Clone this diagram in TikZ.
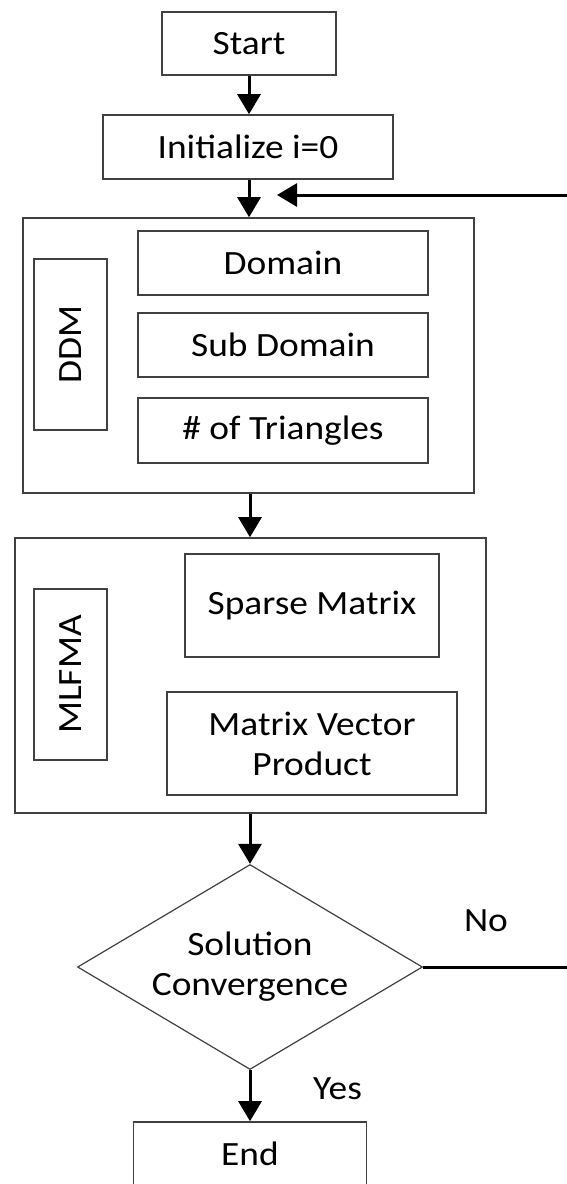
\documentclass[tikz,border=0pt]{standalone}
\usepackage{fontspec}
\setmainfont{Carlito}[FakeStretch=1.1]
\usetikzlibrary{arrows.meta, shapes.geometric}
\definecolor{boxgray}{HTML}{404040}

\begin{document}
\begin{tikzpicture}[
  x=0.5pt, y=-0.5pt,
  font=\fontsize{17}{20}\selectfont,
  every node/.style={align=center},
  flow/.style={-{Triangle[length=10pt,width=11.5pt]}, draw=black, line width=1.5pt},
  stepbox/.style={draw=boxgray, line width=0.8pt, inner sep=0pt},
  group/.style={draw=boxgray, line width=0.8pt, inner sep=0pt},
  tag/.style={draw=boxgray, line width=0.8pt, inner sep=0pt, rotate=90,
              minimum width=85.5pt, minimum height=36.5pt},
  decide/.style={diamond, aspect=1.68, draw=boxgray, line width=0.6pt, inner sep=0pt,
                 minimum width=172.5pt, minimum height=102.5pt},
]
\useasboundingbox (0,0) rectangle (567,1184);

% ---------- start ----------
\node[stepbox, minimum width=87pt, minimum height=31.5pt] (start) at (249,43.5) {Start};
\node[stepbox, minimum width=145pt, minimum height=32pt] (init) at (248,147) {Initialize i=0};

% ---------- DDM block ----------
\node[group, minimum width=225.5pt, minimum height=137.5pt] (ddm) at (248.5,355.5) {};
\node[tag] (ddmtag) at (70.5,344.5) {DDM};
\node[stepbox, minimum width=145pt, minimum height=32pt] (domain) at (283,263) {Domain};
\node[stepbox, minimum width=145pt, minimum height=32pt] (subdom) at (283,345) {Sub Domain};
\node[stepbox, minimum width=145pt, minimum height=32.5pt] (tri) at (283,430.5) {\# of Triangles};

% ---------- MLFMA block ----------
\node[group, minimum width=235.5pt, minimum height=137.5pt] (mlfma) at (250.5,675.5) {};
\node[tag] (mlfmatag) at (70.5,674.5) {MLFMA};
\node[stepbox, minimum width=127pt, minimum height=51.5pt] (sparse) at (312,605.5) {Sparse Matrix};
\node[stepbox, minimum width=145pt, minimum height=51.5pt] (mvp) at (312,743.5) {Matrix Vector\\Product};

% ---------- decision ----------
\node[decide] (conv) at (250,967) {Solution\\Convergence};
\node (no) at (486,921) {No};
\node (yes) at (337.5,1089) {Yes};
\node[stepbox, minimum width=116.5pt, minimum height=32pt] (end) at (250,1154) {End};

% ---------- arrows ----------
\coordinate (rgt) at (572,967);
\coordinate (loopin) at (277,195);
\draw[flow] (start.south) -- (init.north -| start.south);
\draw[flow] (init.south -| start.south) -- (ddm.north -| start.south);
\draw[flow] (ddm.south -| conv.north) -- (mlfma.north -| conv.north);
\draw[flow] (mlfma.south -| conv.north) -- (conv.north);
\draw[flow] (conv.south) -- (end.north);
\draw[flow] (conv.east) -- (rgt) |- (loopin);

\end{tikzpicture}
\end{document}
